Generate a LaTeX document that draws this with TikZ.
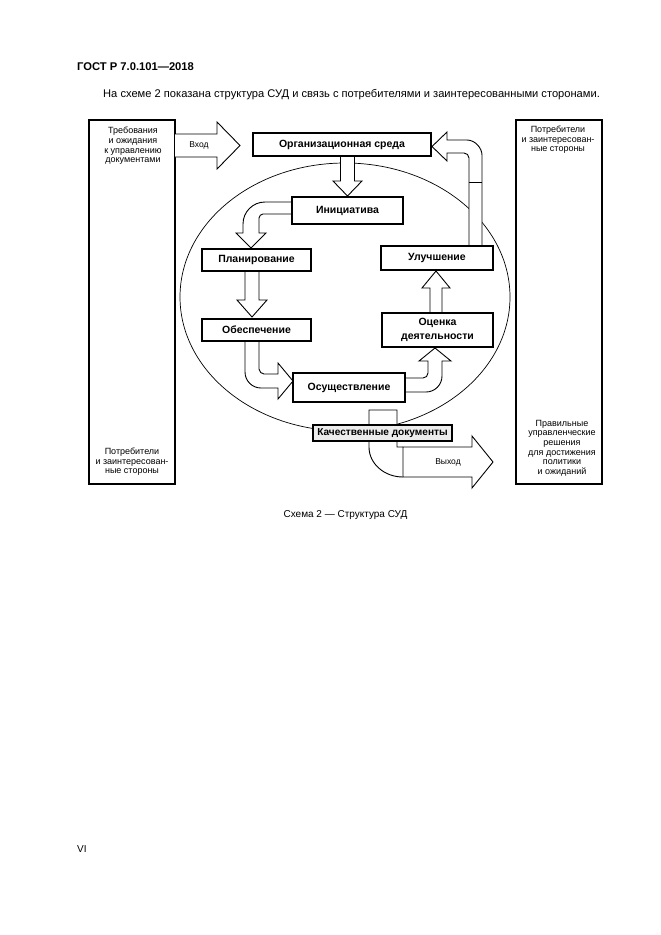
\documentclass[tikz,border=0pt]{standalone}
\usepackage{fontspec}
\setmainfont{Liberation Sans}
\newcommand\lblfont{\fontsize{10.5}{13.5}\bfseries\selectfont}
\newcommand\sidefont{\fontsize{9}{9.6}\selectfont}
\newcommand\iofont{\fontsize{8.5}{10}\selectfont}
\begin{document}
\begin{tikzpicture}[x=1pt,y=-1pt,
  box/.style={draw, line width=1.6pt, fill=white, inner sep=0pt, align=center, font=\lblfont},
  sidebox/.style={draw, line width=1.4pt, inner sep=0pt},
  sidetext/.style={align=center, font=\sidefont, inner sep=0pt},
  fat/.style={draw, line width=0.9pt, fill=white, line join=miter},
  iotext/.style={font=\iofont, inner sep=0pt}]
\useasboundingbox (0,0) rectangle (661,935);

% page texts
\node[anchor=base west, font=\fontsize{11.2}{13}\bfseries\selectfont, inner sep=0pt] (hdr) at (77,70) {ГОСТ Р 7.0.101—2018};
\node[anchor=base west, font=\fontsize{11.13}{13}\selectfont, inner sep=0pt] (par) at (103,97.5) {На схеме 2 показана структура СУД и связь с потребителями и заинтересованными сторонами.};
\node[anchor=base, font=\fontsize{10}{12}\selectfont, inner sep=0pt] (cap) at (345.5,517) {Схема 2 — Структура СУД};
\node[anchor=base west, font=\fontsize{10}{12}\selectfont, inner sep=0pt] (pg) at (77,852) {VI};

% ellipse (environment)
\draw[line width=0.7pt] (345,297) ellipse [x radius=165, y radius=134];

% side boxes
\node[sidebox, minimum width=86, minimum height=364] (lbox) at (132,302) {};
\node[sidebox, minimum width=86, minimum height=364] (rbox) at (559,302) {};
\node[sidetext] (ltop) at (133,146) {Требования\\и ожидания\\к управлению\\документами};
\node[sidetext] (lbot) at (132,462) {Потребители\\и заинтересован-\\ные стороны};
\node[sidetext] (rtop) at (558,140) {Потребители\\и заинтересован-\\ные стороны};
\node[sidetext] (rbot) at (562,448) {Правильные\\управленческие\\решения\\для достижения\\политики\\и ожиданий};

% input arrow
\draw[fat] (175,134) -- (217,134) -- (217,122) -- (240,145.5) -- (217,169) -- (217,157) -- (175,157);
\node[iotext] (vhod) at (199,145.5) {Вход};

% Org -> Init
\draw[fat] (340.5,156) -- (340.5,181) -- (333,181) -- (347.5,196) -- (362,181) -- (354.5,181) -- (354.5,156);

% Init -> Plan
\draw[fat] (292,202) -- (265,202) .. controls (252.85,202) and (243,211.85) .. (243,224) -- (243,233) -- (236,233) -- (251,248) -- (266,233) -- (259,233) -- (259,218) .. controls (259,215.8) and (261.2,214) .. (263,214) -- (292,214);

% Plan -> Obes
\draw[fat] (245,271) -- (245,300) -- (237,300) -- (252,317) -- (267,300) -- (259,300) -- (259,271);

% Obes -> Osush
\draw[fat] (245,341) -- (245,372) .. controls (245,380.84) and (252.16,388) .. (261,388) -- (278,388) -- (278,399) -- (293,381) -- (278,363) -- (278,374) -- (264,374) .. controls (261.76,374) and (259,371.76) .. (259,369) -- (259,341);

% Osush -> Ocenka
\draw[fat] (405,392) -- (426,392) .. controls (434.84,392) and (442,384.84) .. (442,376) -- (442,361) -- (451,361) -- (435,348) -- (419,361) -- (428,361) -- (428,373) .. controls (428,375.76) and (425.76,378) .. (423,378) -- (405,378);

% Ocenka -> Uluch
\draw[fat] (430,313) -- (430,288) -- (422,288) -- (436,271) -- (450,288) -- (442,288) -- (442,313);

% Uluch -> Org
\draw[fat] (482,246) -- (482,155) .. controls (482,148.28) and (475.28,140) .. (467,140) -- (447,140) -- (447,132) -- (432,146.5) -- (447,161) -- (447,153) -- (464,153) .. controls (466.76,153) and (469,155.24) .. (469,158) -- (469,246);
\draw[line width=0.9pt] (469,182) -- (482,182);

% output column and arrow
\draw[fat] (403,477) .. controls (384.2,477) and (369,463.6) .. (369,447) -- (369,410) -- (397,410) -- (397,447) -- (403,447);
\draw[fat] (403,447) -- (472,447) -- (472,436) -- (493,462) -- (472,488) -- (472,477) -- (403,477) -- cycle;
\node[iotext] (vyhod) at (448,462) {Выход};

% boxes
\node[box, minimum width=178, minimum height=23] (org) at (342,144.5) {Организационная среда};
\node[box, minimum width=111, minimum height=27] (init) at (347.5,210.5) {Инициатива};
\node[box, minimum width=109, minimum height=22] (plan) at (256.5,260) {Планирование};
\node[box, minimum width=109, minimum height=22] (obes) at (256.5,330) {Обеспечение};
\node[box, minimum width=112, minimum height=29] (osush) at (349,387.5) {Осуществление};
\node[box, minimum width=111, minimum height=34] (ocen) at (437.5,330) {Оценка\\деятельности};
\node[box, minimum width=112, minimum height=24] (uluch) at (437,258) {Улучшение};
\node[box, line width=1.3pt, fill=gray!15, minimum width=139, minimum height=16, font=\fontsize{10.1}{12}\bfseries\selectfont] (kach) at (382.5,433) {Качественные документы};
\end{tikzpicture}
\end{document}
